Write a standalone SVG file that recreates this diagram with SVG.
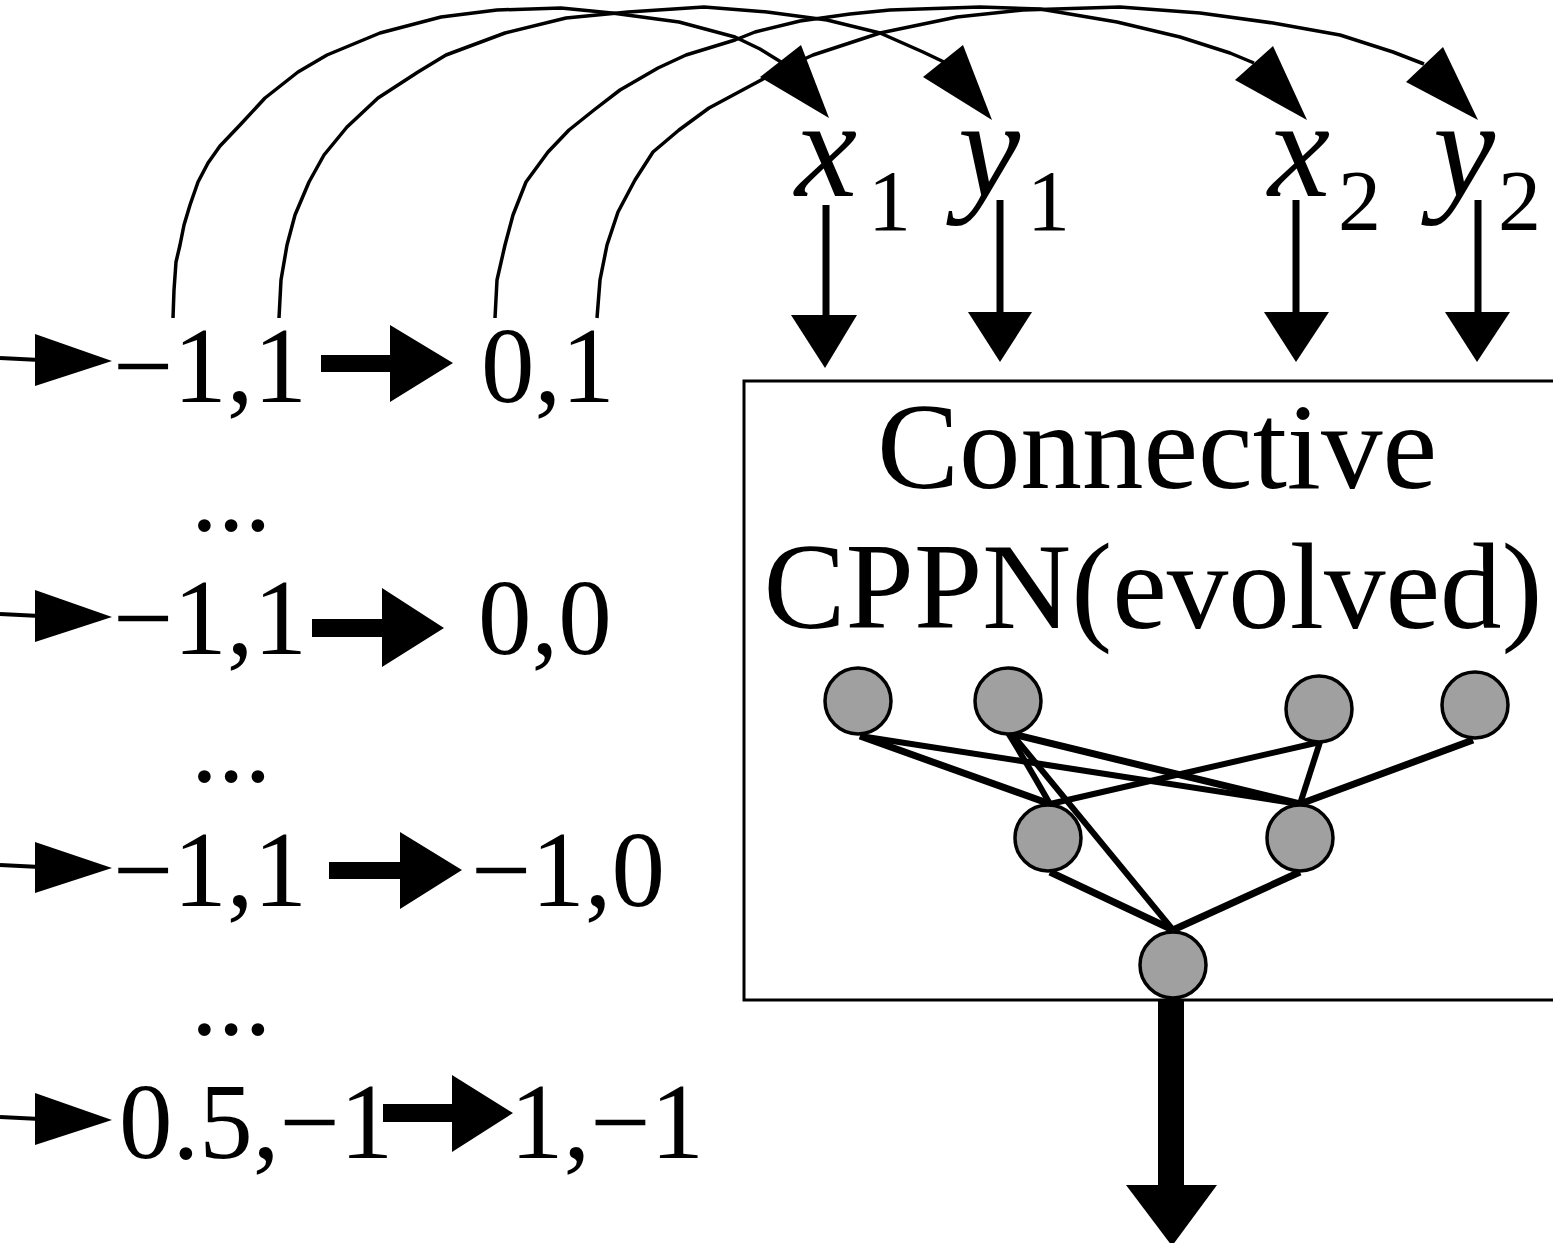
<svg xmlns="http://www.w3.org/2000/svg" width="1553" height="1243" viewBox="0 0 1553 1243">
  <style>
    .num { font-family: "Liberation Serif", "Times New Roman", serif; font-size: 107px; fill: #000; }
    .title { font-family: "Liberation Serif", "Times New Roman", serif; font-size: 123px; fill: #000; text-anchor: middle; }
    .var { font-family: "Liberation Serif", "Times New Roman", serif; font-size: 140px; font-style: italic; fill: #000; }
    .sub { font-family: "Liberation Serif", "Times New Roman", serif; font-size: 86px; font-style: normal; }
    .curve { fill: none; stroke: #000; stroke-width: 3.5; stroke-linejoin: round; stroke-linecap: butt; }
    .thin { fill: none; stroke: #000; stroke-width: 4; }
    .stem { fill: none; stroke: #000; stroke-width: 7; }
    .edge { fill: none; stroke: #000; stroke-width: 7; stroke-linecap: butt; }
    .head { fill: #000; stroke: none; }
    .neuron { fill: #a0a0a0; stroke: #000; stroke-width: 3.5; }
    .frame { fill: none; stroke: #000; stroke-width: 3; }
  </style>

  <!-- substrate coordinate pairs -->
  <g id="row1">
    <text class="num" x="113" y="402">−1,1</text>
    <text class="num" x="481" y="402">0,1</text>
  </g>
  <text id="dots1" class="num" x="191" y="530">...</text>
  <g id="row2">
    <text class="num" x="113" y="654">−1,1</text>
    <text class="num" x="478" y="654">0,0</text>
  </g>
  <text id="dots2" class="num" x="191" y="781">...</text>
  <g id="row3">
    <text class="num" x="113" y="906">−1,1</text>
    <text class="num" x="471" y="906">−1,0</text>
  </g>
  <text id="dots3" class="num" x="191" y="1034">...</text>
  <g id="row4">
    <text class="num" x="119" y="1158">0.5,−1</text>
    <text class="num" x="510" y="1158">1,−1</text>
  </g>

  <!-- CPPN inputs -->
  <g id="in-x1"><text class="var" x="795" y="196">x<tspan class="sub" x="868" y="230">1</tspan></text></g>
  <g id="in-y1"><text class="var" x="958" y="196">y<tspan class="sub" x="1027" y="230">1</tspan></text></g>
  <g id="in-x2"><text class="var" x="1268" y="196">x<tspan class="sub" x="1338" y="230">2</tspan></text></g>
  <g id="in-y2"><text class="var" x="1433" y="196">y<tspan class="sub" x="1498" y="230">2</tspan></text></g>

  <!-- CPPN box -->
  <g id="cppn">
    <path class="frame" d="M1560,381 H744 V1000 H1560"/>
    <text class="title" x="1157" y="488">Connective</text>
    <text class="title" x="1153" y="628">CPPN(evolved)</text>
  </g>

  <g id="connectors">
    <!-- incoming lines at the left edge -->
    <line class="thin" x1="0" y1="358" x2="40" y2="360"/>
    <polygon class="head" points="35,334 35,386 112,361"/>
    <line class="thin" x1="0" y1="614" x2="40" y2="616"/>
    <polygon class="head" points="35,590 35,642 112,617"/>
    <line class="thin" x1="0" y1="865" x2="40" y2="867"/>
    <polygon class="head" points="35,842 35,893 112,868"/>
    <line class="thin" x1="0" y1="1117" x2="40" y2="1119"/>
    <polygon class="head" points="35,1093 35,1145 112,1120"/>

    <!-- block arrows between pairs -->
    <polygon class="head" points="321,355 390,355 390,325 453,363 390,402 390,372 321,372"/>
    <polygon class="head" points="312,619 382,619 382,588 444,628 382,667 382,637 312,637"/>
    <polygon class="head" points="329,862 400,862 400,832 462,870 400,909 400,879 329,879"/>
    <polygon class="head" points="383,1104 452,1104 452,1075 513,1113 452,1152 452,1122 383,1122"/>

    <!-- coordinates routed to the CPPN inputs -->
    <polyline class="curve" points="173,318 174,290 176,262 180,245 184,225 190,205 198,182 208,163 220,146 240,125 265,98 298,72 327,55 380,33 441,17 497,10 561,8 612,13 679,22 735,37 760,49 781,62"/>
    <polygon class="head" points="760,77 801,45 829,118"/>
    <polyline class="curve" points="279,318 281,280 287,245 295,215 309,182 324,155 347,127 378,98 418,72 446,55 505,33 566,18 628,12 704,7 767,12 827,20 880,33 923,52 944,62"/>
    <polygon class="head" points="923,77 963,45 992,120"/>
    <polyline class="curve" points="495,318 497,280 505,245 513,215 526,182 548,152 569,130 594,110 620,90 658,68 686,55 735,40 755,32 800,21 850,14 890,10 980,7 1040,9 1117,22 1180,37 1230,53 1254,63"/>
    <polygon class="head" points="1235,80 1273,46 1307,120"/>
    <polyline class="curve" points="597,318 600,280 607,245 618,212 635,180 653,152 679,130 709,108 750,86 780,70 813,55 880,33 957,17 1023,10 1120,7 1200,13 1273,23 1340,35 1393,52 1424,64"/>
    <polygon class="head" points="1406,82 1443,47 1478,120"/>

    <!-- inputs into the CPPN -->
    <line class="stem" x1="826" y1="205" x2="826" y2="318"/>
    <polygon class="head" points="791,315 857,315 825,368"/>
    <line class="stem" x1="1000" y1="200" x2="1000" y2="315"/>
    <polygon class="head" points="968,312 1032,312 1000,362"/>
    <line class="stem" x1="1296" y1="200" x2="1296" y2="315"/>
    <polygon class="head" points="1264,312 1329,312 1296,362"/>
    <line class="stem" x1="1478" y1="200" x2="1478" y2="315"/>
    <polygon class="head" points="1445,312 1510,312 1477,362"/>

    <!-- network edges -->
    <line class="edge" x1="860" y1="736" x2="1050" y2="804"/>
    <line class="edge" x1="860" y1="736" x2="1300" y2="804" style="stroke-width:6"/>
    <path class="edge" d="M1008,733 Q1022,755 1050,804" style="stroke-width:6"/>
    <line class="edge" x1="1012" y1="734" x2="1300" y2="804"/>
    <line class="edge" x1="1012" y1="734" x2="1173" y2="930" style="stroke-width:6"/>
    <line class="edge" x1="1320" y1="742" x2="1050" y2="804" style="stroke-width:6"/>
    <line class="edge" x1="1320" y1="742" x2="1300" y2="804" style="stroke-width:6"/>
    <line class="edge" x1="1473" y1="740" x2="1300" y2="804"/>
    <line class="edge" x1="1050" y1="872" x2="1173" y2="930"/>
    <line class="edge" x1="1300" y1="872" x2="1173" y2="930"/>

    <!-- CPPN output -->
    <rect class="head" x="1158" y="999" width="26" height="188"/>
    <polygon class="head" points="1126,1185 1217,1185 1172,1246"/>
  </g>

  <!-- CPPN neurons -->
  <g id="n1"><circle class="neuron" cx="858" cy="701" r="33"/></g>
  <g id="n2"><circle class="neuron" cx="1008" cy="701" r="33"/></g>
  <g id="n3"><circle class="neuron" cx="1319" cy="709" r="33"/></g>
  <g id="n4"><circle class="neuron" cx="1475" cy="705" r="33"/></g>
  <g id="m1"><circle class="neuron" cx="1048" cy="838" r="33"/></g>
  <g id="m2"><circle class="neuron" cx="1300" cy="838" r="33"/></g>
  <g id="out"><circle class="neuron" cx="1173" cy="965" r="33"/></g>
</svg>
